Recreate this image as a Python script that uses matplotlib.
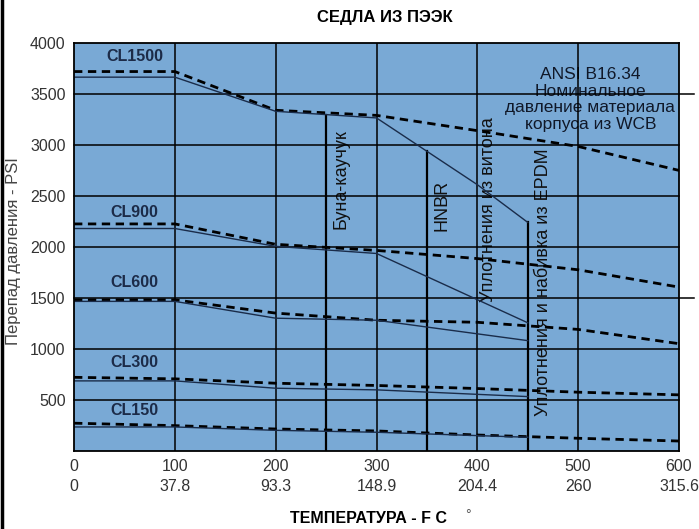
import numpy as np
import matplotlib
matplotlib.use("Agg")
import matplotlib.pyplot as plt
from matplotlib.lines import Line2D

plt.rcParams['font.family'] = ['Liberation Sans', 'DejaVu Sans']

# temperature axis
temps_f = [0, 100, 200, 300, 400, 500, 600]
temps_c = ["0", "37.8", "93.3", "148.9", "204.4", "260", "315.6"]

# ANSI B16.34 WCB body ratings (dashed)
ansi_cl1500 = [3720, 3720, 3340, 3290, 3140, 2985, 2750]
ansi_cl900 = [2225, 2225, 2025, 1965, 1885, 1775, 1605]
ansi_cl600 = [1480, 1480, 1350, 1280, 1260, 1190, 1050]
ansi_cl300 = [720, 705, 662, 640, 610, 574, 548]
ansi_cl150 = [270, 246, 213, 194, 154, 122, 95]

# PEEK seat limits (solid)
seat_t_1500 = [0, 100, 200, 300, 400, 450]
seat_cl1500 = [3665, 3665, 3330, 3265, 2610, 2240]
seat_t = [0, 100, 200, 300, 450]
seat_cl900 = [2180, 2180, 2005, 1935, 1255]
seat_cl600 = [1465, 1465, 1300, 1280, 1080]
seat_cl300 = [685, 685, 613, 597, 531]
seat_cl150 = [233, 233, 200, 181, 132]

classes = ["CL1500", "CL900", "CL600", "CL300", "CL150"]
class_label_y = [3870, 2335, 1646, 870, 398]

seal_temps = [250, 350, 450]
seal_names = ["Буна-каучук", "HNBR", "Уплотнения из витона",
              "Уплотнения и набивка из EPDM"]

fig = plt.figure(figsize=(6.99, 5.29), dpi=100)
ax = fig.add_axes([0.1059, 0.148, 0.8655, 0.7707])
ax.set_facecolor("#79a9d5")
ax.set_xlim(0, 600)
ax.set_ylim(0, 4000)

# grid drawn over text
for y in range(500, 4000, 500):
    ext = 615 if y in (1500, 3500) else 600
    ax.plot([0, ext], [y, y], color="black", lw=1.1, zorder=3, clip_on=False)
for x in range(100, 600, 100):
    ax.axvline(x, color="black", lw=1.1, zorder=3)

# seal temperature limits
tops = np.interp(seal_temps, seat_t_1500, seat_cl1500)
for x, top in zip(seal_temps, tops):
    ax.plot([x, x], [0, top], color="black", lw=1.6, zorder=3)

navy = "#1a2c4a"
for vals in [ansi_cl1500, ansi_cl900, ansi_cl600, ansi_cl300, ansi_cl150]:
    ax.plot(temps_f, vals, color="black", lw=2.0, dashes=(3, 2), zorder=4)
ax.plot(seat_t_1500, seat_cl1500, color=navy, lw=1.0, zorder=4)
for vals in [seat_cl900, seat_cl600, seat_cl300, seat_cl150]:
    ax.plot(seat_t, vals, color=navy, lw=1.0, zorder=4)

for name, y in zip(classes, class_label_y):
    ax.text(60, y, name, ha="center", va="center", fontsize=11.5,
            fontweight="bold", color="#1c2b48", zorder=2)

ansi_txt = "ANSI B16.34\nНоминальное\nдавление материала\nкорпуса из WCB"
ax.text(512, 3447, ansi_txt, ha="center", va="center", fontsize=12.5,
        color="#101828", linespacing=1.12, zorder=2)

seal_pos = [(265, 2670), (365, 2405), (411, 2365), (466, 1655)]
for name, (x, y) in zip(seal_names, seal_pos):
    ax.text(x, y, name, rotation=90, ha="center", va="center", fontsize=13,
            color="#111", zorder=2)

ax.set_yticks(range(500, 4001, 500))
ax.set_yticklabels([str(v) for v in range(500, 4001, 500)])
ax.set_xticks(temps_f)
ax.set_xticklabels([f"{f}\n{c}" for f, c in zip(temps_f, temps_c)],
                   linespacing=1.4)
ax.tick_params(length=0, labelsize=11.5, labelcolor="#333333", pad=6)
ax.tick_params(axis="y", pad=6)
for s in ax.spines.values():
    s.set_linewidth(1.3)
    s.set_zorder(5)

ax.set_ylabel("Перепад давления - PSI", fontsize=12, color="#444444")
ax.yaxis.set_label_coords(-0.087, 0.49)
fig.text(0.551, 0.966, "СЕДЛА ИЗ ПЭЭК", ha="center", va="center",
         fontsize=12, fontweight="bold")
fig.text(0.527, 0.019, "ТЕМПЕРАТУРА - F C", ha="center", va="center",
         fontsize=11.5, fontweight="bold")
fig.text(0.669, 0.027, "°", ha="center", va="center", fontsize=10,
         color="#555555")

fig.add_artist(Line2D([0.003, 0.003], [0, 1], color="black", lw=2.5))

fig.savefig("out.png", dpi=100)
